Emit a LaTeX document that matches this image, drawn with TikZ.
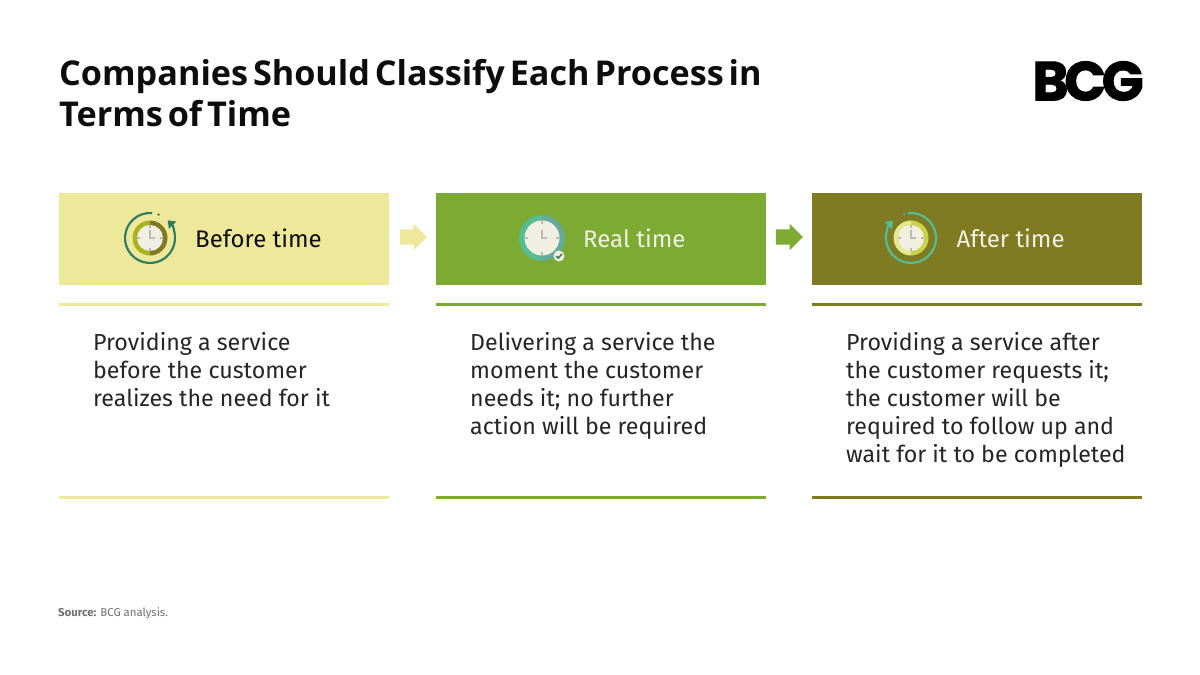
\documentclass[tikz,border=0pt]{standalone}
\usepackage{fontspec}
\setmainfont{Fira Sans}
\newfontfamily\titlefont[WordSpace=0.55]{Open Sans}
\newfontfamily\logofont[LetterSpace=-8,FakeBold=1.6]{Poppins}
\usetikzlibrary{shapes.arrows,arrows.meta}

\definecolor{palegreen}{HTML}{EDE89A}
\definecolor{midgreen}{HTML}{7DAA32}
\definecolor{darkolive}{HTML}{7F7B23}
\definecolor{facewhite}{HTML}{F1EFE4}
\definecolor{handgrey}{HTML}{BDBBB0}
\definecolor{deepteal}{HTML}{2F7D62}
\definecolor{mint}{HTML}{55BC94}
\definecolor{greyteal}{HTML}{66AB9A}
\definecolor{limeolive}{HTML}{A9B21F}
\definecolor{palelime}{HTML}{E3E88F}
\definecolor{lime}{HTML}{C8D34A}
\definecolor{inkblack}{HTML}{0D0D0D}
\definecolor{sourcegrey}{HTML}{6E6F73}

\tikzset{
	headbox/.style={minimum width=330pt,minimum height=92pt,inner sep=0pt,outer sep=0pt},
	headtext/.style={anchor=west,inner sep=0pt,font=\fontsize{24}{28}\selectfont},
	bodytext/.style={anchor=north west,inner sep=0pt,align=left,text=inkblack!90,font=\fontsize{23.2}{28}\selectfont},
	blockarrow/.style={single arrow,minimum height=27pt,single arrow head extend=5.5pt,inner sep=0pt,outer sep=0pt},
	rulebar/.style={line width=3pt}
}

% one clock: centre, outer radius, face radius, left colour, right colour
\newcommand{\clockdial}[5]{
	\fill[#4] (#1) ++(90:#2) arc (90:270:#2) -- cycle;
	\fill[#5] (#1) ++(-90:#2) arc (-90:90:#2) -- cycle;
	\fill[facewhite] (#1) circle (#3);
	\foreach \ang in {0,90,180,270}
		\draw[handgrey,line width=2pt] (#1) ++(\ang:#3-3.2) -- ++(\ang:3.2);
	\draw[handgrey,line width=2pt] (#1) ++(0,7.5) -- ++(0,-7.5) -- ++(4.5,0);
}

\begin{document}
\begin{tikzpicture}[x=1pt,y=1pt]
	\useasboundingbox (0,0) rectangle (1200,675);
	\fill[white] (0,0) rectangle (1200,675);

	\node[anchor=north west,inner sep=0pt,align=left,text=inkblack,font=\titlefont\bfseries\fontsize{34.2}{41}\selectfont] (title) at (59,616) {Companies Should Classify Each Process in\\Terms of Time};
	\node[anchor=center,inner sep=0pt,text=black,font=\logofont\bfseries\fontsize{55}{55}\selectfont] (logo) at (1088,594) {BCG};

	\node[headbox,fill=palegreen,anchor=north west] (before) at (59,482) {};
	\node[headbox,fill=midgreen,anchor=north west] (real) at (436,482) {};
	\node[headbox,fill=darkolive,anchor=north west] (after) at (812,482) {};

	\node[blockarrow,fill=palegreen] (arrowone) at (409.5,438) {\rule{0pt}{15pt}};
	\node[blockarrow,fill=midgreen] (arrowtwo) at (785.5,438) {\rule{0pt}{15pt}};

	% icons
	\coordinate (clockone) at (150,437);
	\coordinate (clocktwo) at (542,437);
	\coordinate (clockthree) at (911,437);

	\clockdial{clockone}{17.5}{13}{limeolive}{darkolive}
	\draw[deepteal,line width=2.2pt,-{Triangle[length=7pt,width=10pt]}] (clockone) ++(85:25) arc (85:405:25);
	\fill[deepteal] (clockone) ++(70:25) circle (1.3);

	\clockdial{clocktwo}{23}{17.5}{mint}{greyteal}
	\node[circle,fill=facewhite,minimum size=11pt,inner sep=0pt] (tick) at (559,419) {};
	\draw[deepteal,line width=1.5pt] (556.3,419) -- (558.3,417) -- (562,421);

	\clockdial{clockthree}{17.5}{13}{palelime}{lime}
	\draw[mint,line width=2.2pt,-{Triangle[length=7pt,width=10pt]}] (clockthree) ++(97:25) arc (97:-224:25);
	\fill[mint] (clockthree) ++(106:25) circle (1.3);

	\node[headtext,text=inkblack] (beforelabel) at (195,437) {Before time};
	\node[headtext,text=facewhite] (reallabel) at (583,437) {Real time};
	\node[headtext,text=facewhite] (afterlabel) at (956.5,437) {After time};

	% rules above and below the text
	\draw[rulebar,palegreen] (59,370.5) -- (389,370.5);
	\draw[rulebar,midgreen] (436,370.5) -- (766,370.5);
	\draw[rulebar,darkolive] (812,370.5) -- (1142,370.5);
	\draw[rulebar,palegreen] (59,177.5) -- (389,177.5);
	\draw[rulebar,midgreen] (436,177.5) -- (766,177.5);
	\draw[rulebar,darkolive] (812,177.5) -- (1142,177.5);

	\node[bodytext] (beforetext) at (93,343) {Providing a service\\before the customer\\realizes the need for it};
	\node[bodytext] (realtext) at (470,343) {Delivering a service the\\moment the customer\\needs it; no further\\action will be required};
	\node[bodytext] (aftertext) at (846,343) {Providing a service after\\the customer requests it;\\the customer will be\\required to follow up and\\wait for it to be completed};

	\node[anchor=west,inner sep=0pt,text=sourcegrey,font=\fontsize{11.4}{15}\selectfont] (source) at (58,62) {\textbf{Source:} BCG analysis.};
\end{tikzpicture}
\end{document}
